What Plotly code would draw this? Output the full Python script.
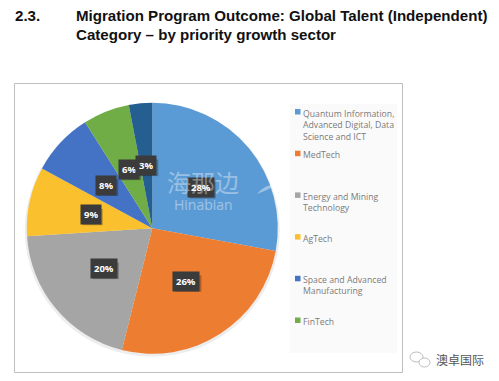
import math
import plotly.graph_objects as go

categories = ["Quantum Information,<br>Advanced Digital, Data<br>Science and ICT", "MedTech",
              "Energy and Mining<br>Technology", "AgTech",
              "Space and Advanced<br>Manufacturing", "FinTech", "Other"]
values = [27.9, 26.0, 20.1, 8.9, 8.1, 6.0, 3.0]
colors = ["#5B9BD5", "#ED7D31", "#A5A5A5", "#FBC02D", "#4472C4", "#70AD47", "#255E91"]
legend_count = 6
W, H = 499, 381
CX, CY, R = 152.3, 228.3, 125.5
LABEL_R = 63


def px(x):
    return x / W


def py(y):
    return 1 - y / H


fig = go.Figure(go.Pie(
    values=values, labels=categories, marker=dict(colors=colors, line=dict(width=0)),
    sort=False, direction="clockwise", rotation=0, textinfo="none", hoverinfo="label+percent",
    showlegend=False,
    domain=dict(x=[px(CX - R), px(CX + R)], y=[py(CY + R), py(CY - R)]),
))

shapes = [
    dict(type="rect", xref="paper", yref="paper", x0=px(14.5), x1=px(402.5), y0=py(372.5), y1=py(83.5),
         line=dict(color="#BFBFBF", width=1), fillcolor="white", layer="below"),
    dict(type="rect", xref="paper", yref="paper", x0=px(290), x1=px(397), y0=py(353), y1=py(104),
         line=dict(width=0), fillcolor="#FAFAFA", layer="below"),
    dict(type="circle", xref="paper", yref="paper", x0=px(CX - R - 2), x1=px(CX + R + 2),
         y0=py(CY + R + 3), y1=py(CY - R + 1), line=dict(width=0), fillcolor="rgba(0,0,0,0.07)", layer="below"),
]

annotations = []
TITLE_FONT = dict(family="Liberation Sans", size=15.1, color="#111")
annotations.append(dict(text="<b>2.3.</b>", x=px(13), y=py(15), xref="paper", yref="paper", xanchor="left",
                        yanchor="middle", showarrow=False, font=TITLE_FONT))
for t, yy in (("Migration Program Outcome: Global Talent (Independent)", 15),
              ("Category – by priority growth sector", 34)):
    annotations.append(dict(text="<b>" + t + "</b>", x=px(74), y=py(yy), xref="paper", yref="paper", xanchor="left",
                            yanchor="middle", showarrow=False, font=TITLE_FONT))

# Value labels
total = sum(values)
cum = 0
for v in values:
    ang = 2 * math.pi * (cum + v / 2) / total
    cum += v
    lx = CX + LABEL_R * math.sin(ang)
    ly = CY - LABEL_R * math.cos(ang)
    txt = f"{round(v)}%"
    hw = 10 + 3 * (len(txt) - 2)
    shapes.append(dict(type="rect", xref="paper", yref="paper", x0=px(lx - hw + 2), x1=px(lx + hw + 2),
                       y0=py(ly + 10.5), y1=py(ly - 6), line=dict(width=0), fillcolor="rgba(0,0,0,0.25)"))
    annotations.append(dict(text="<b>" + txt + "</b>", x=px(lx), y=py(ly), xref="paper", yref="paper",
                            xanchor="center", yanchor="middle",
                            showarrow=False, bgcolor="#3B3B3B", borderpad=3,
                            font=dict(family="Open Sans", size=9.5, color="white")))

# Legend
for i in range(legend_count):
    ly = 112 + 41.7 * i
    shapes.append(dict(type="rect", xref="paper", yref="paper", x0=px(295), x1=px(300.5), y0=py(ly + 2.5),
                       y1=py(ly - 3), line=dict(width=0), fillcolor=colors[i]))
    annotations.append(dict(text=categories[i], x=px(301), y=py(ly - 6.5), xref="paper", yref="paper", xanchor="left",
                            yanchor="top", align="left", showarrow=False,
                            font=dict(family="Open Sans", size=8.7, color="#7A7A7A")))

# Watermark
annotations.append(dict(text="海那边", x=px(203), y=py(181), xref="paper", yref="paper", showarrow=False,
                        xanchor="center", yanchor="middle",
                        font=dict(family="Noto Sans CJK SC", size=24, color="rgba(255,255,255,0.38)")))
annotations.append(dict(text="Hinabian", x=px(203), y=py(204), xref="paper", yref="paper", showarrow=False,
                        xanchor="center", yanchor="middle",
                        font=dict(family="Open Sans", size=14, color="rgba(255,255,255,0.42)")))
shapes.append(dict(type="path", xref="paper", yref="paper",
                   path=f"M {px(257)} {py(194)} Q {px(265)} {py(184)} {px(278)} {py(184)} "
                        f"Q {px(268)} {py(190)} {px(257)} {py(194)} Z",
                   line=dict(width=0), fillcolor="rgba(255,255,255,0.4)"))

# Footer mark
for x0, x1, y0, y1 in ((410, 423, 352, 362), (419, 430, 358, 367)):
    shapes.append(dict(type="circle", xref="paper", yref="paper", x0=px(x0), x1=px(x1), y0=py(y1), y1=py(y0),
                       line=dict(color="#BDBDBD", width=1), fillcolor="white"))
annotations.append(dict(text="澳卓国际", x=px(460), y=py(359), xref="paper", yref="paper", showarrow=False,
                        xanchor="center", yanchor="middle",
                        font=dict(family="Noto Sans CJK SC", size=12, color="#555555")))

fig.update_layout(width=W, height=H, margin=dict(l=0, r=0, t=0, b=0), paper_bgcolor="white",
                  shapes=shapes, annotations=annotations, showlegend=False)
fig.write_html("out.html", config=dict(displayModeBar=False),
               post_script="document.body.style.margin='0';document.body.style.overflow='hidden';")
